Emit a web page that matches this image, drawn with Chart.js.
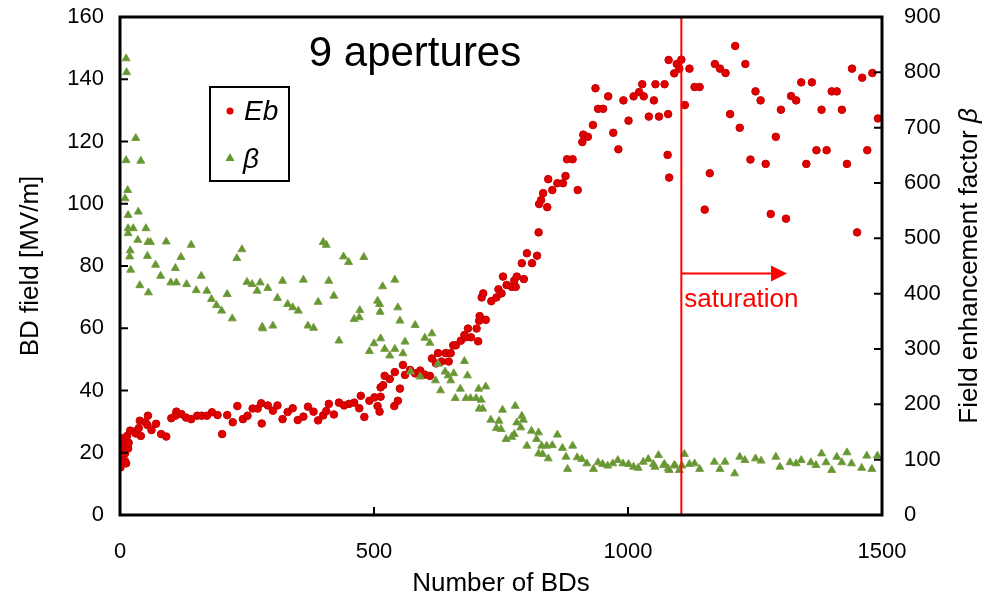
<!DOCTYPE html>
<html>
<head>
<meta charset="utf-8">
<title>BD field and field enhancement factor – 9 apertures</title>
<script src="https://cdn.jsdelivr.net/npm/chart.js@4/dist/chart.umd.min.js"></script>
<style>
  html, body { margin: 0; padding: 0; background: #fff; }
  #wrap { width: 990px; height: 604px; }
</style>
</head>
<body>
<div id="wrap"><canvas id="c" width="990" height="604"></canvas></div>
<script>
// Breakdown field Eb [MV/m] against cumulative number of breakdowns
const ebBDs = [1,2,12,10,2,10,16,7,17,5,14,20,29,31,37,41,39,50,55,54,62,71,81,91,101,111,109,121,130,140,
  152,161,171,181,192,201,211,222,231,242,251,261,271,278,279,291,301,310,320,330,340,350,361,370,381,390,400,406,411,421,
  431,441,451,461,471,474,481,491,501,507,511,513,513,518,521,531,541,540,547,551,557,561,571,581,591,600,610,614,622,626,
  633,641,647,651,656,661,671,678,681,691,685,702,705,708,707,720,712,715,731,741,745,751,754,761,771,779,776,781,795,791,
  801,811,821,824,825,829,833,841,843,851,861,872,877,880,891,901,910,912,921,931,936,941,951,961,971,981,991,1001,1011,1022,
  1028,1031,1041,1051,1054,1061,1072,1079,1078,1081,1080,1091,1096,1101,1105,1112,1121,1131,1141,1151,1161,1171,1181,1192,1201,1211,1220,1231,1241,1251,
  1261,1271,1281,1291,1301,1311,1321,1331,1341,1351,1362,1371,1381,1391,1401,1411,1421,1431,1441,1451,1461,1471,1481,1492];
const ebField = [15.3,17.7,16.6,17.3,21.1,19.8,21.4,23.0,23.2,24.6,25.4,27.1,26.8,26.2,27.9,25.4,30.3,29.8,31.9,28.9,27.3,29.3,26.0,25.2,31.1,33.2,31.9,32.4,31.3,30.8,
  31.9,31.9,31.9,33.0,32.1,26.0,32.1,29.8,35.0,30.8,31.9,34.2,34.2,35.9,29.4,35.2,33.5,35.2,30.8,33.1,34.3,30.5,31.6,34.8,33.2,30.4,32.0,33.4,35.7,32.3,
  36.1,35.2,35.7,36.1,34.3,38.3,31.5,36.7,37.8,35.0,33.2,38.0,41.0,41.7,44.7,43.7,45.9,35.0,36.7,40.6,48.2,45.0,46.6,45.5,46.4,45.1,44.7,50.3,48.7,52.0,
  49.3,52.0,49.3,52.0,54.5,54.5,56.0,57.8,57.1,57.1,59.9,59.9,55.8,63.9,62.4,62.7,69.9,71.2,68.7,69.9,72.5,71.2,76.6,73.9,73.3,73.3,75.3,76.6,75.8,80.9,
  84.1,80.9,83.3,90.8,99.9,101.2,103.4,98.9,107.9,104.4,106.6,106.6,108.9,114.3,114.3,104.4,119.8,122.2,121.5,125.3,137.1,130.5,130.5,134.5,122.8,117.5,133.2,126.7,134.5,135.9,
  138.4,134.5,128.0,133.2,138.4,128.0,138.4,128.8,115.7,108.4,146.2,141.9,144.9,143.4,146.3,131.7,143.4,137.5,137.5,98.1,109.8,144.9,143.4,142.0,128.8,150.7,124.4,144.9,114.2,136.1,
  133.2,112.8,96.7,121.5,130.2,95.2,134.6,133.2,139.0,112.8,139.0,117.2,130.2,117.2,136.1,136.1,130.2,112.8,143.4,90.8,140.5,117.2,142.0,127.4];

// Field enhancement factor beta against cumulative number of breakdowns
const betaBDs = [12,13,31,12,41,15,10,16,36,16,26,51,16,35,55,60,91,140,240,20,19,54,120,230,70,109,21,80,160,100,
  111,250,260,276,39,131,270,56,150,171,211,180,190,200,221,280,291,281,301,320,310,330,340,351,361,370,381,390,400,406,
  411,421,431,440,450,480,461,471,472,507,511,512,517,541,547,551,491,500,513,521,531,541,557,561,572,581,600,614,610,591,
  626,621,640,646,657,651,678,684,631,660,670,681,690,701,706,720,711,707,714,730,741,753,778,746,750,791,794,781,789,760,
  771,776,810,824,820,861,801,830,840,851,824,832,843,871,891,878,881,900,909,919,932,941,950,960,970,980,990,1001,1011,1020,
  1030,1040,1050,1060,1070,1079,1093,1053,1072,1081,1091,1101,1106,1111,1121,1131,1141,1170,1181,1191,1210,1220,1230,1251,1262,1291,1299,1319,1331,1341,
  1360,1370,1381,1390,1401,1411,1421,1431,1440,1460,1470,1480,1491];
const betaValues = [825,800,681,641,640,587,572,542,548,518,518,518,509,497,493,493,494,488,480,478,467,468,466,464,452,446,443,432,432,420,
  420,421,417,420,415,417,405,402,406,405,399,390,379,369,355,340,410,337,342,423,392,381,375,369,425,342,338,385,493,488,
  423,396,315,467,457,466,354,357,370,387,381,367,413,425,375,351,296,310,319,300,288,300,292,313,259,343,320,328,311,250,
  273,243,259,252,256,243,278,252,225,211,228,211,211,211,228,232,208,192,192,172,157,190,197,170,155,179,172,167,158,137,
  141,146,152,149,137,145,125,125,125,126,111,110,102,121,125,105,83,104,101,93,83,95,92,89,93,99,93,92,87,85,
  96,101,92,108,90,84,89,87,92,81,90,81,89,110,92,93,83,96,83,96,75,105,99,102,98,105,87,95,93,99,
  95,90,111,95,81,105,95,113,93,85,107,83,107];

// Axis ranges and tick steps
const xRange = [0, 1500], xStep = 500;
const ebRange = [0, 160], ebStep = 20;
const betaRange = [0, 900], betaStep = 100;

// Saturation marker: onset of saturation and arrow extent
const saturationStart = 1105;
const saturationArrowEnd = 1313;
const saturationArrowLevel = 77.6;

const FONT = '"Liberation Sans", Arial, Helvetica, sans-serif';
const RED = '#e00000';
const RED_EDGE = '#c40000';
const GREEN = '#5e9a30';
const GREEN_EDGE = '#7f9b45';

const pairs = (xs, ys) => xs.map((x, i) => ({ x: x, y: ys[i] }));
const plainNumber = v => String(v);

// Frame, inner ticks, titles, legend and the saturation annotation
const decorations = {
  id: 'decorations',
  afterDatasetsDraw(chart) {
    const ctx = chart.ctx;
    const a = chart.chartArea;
    const sx = chart.scales.x, sy = chart.scales.y, sy2 = chart.scales.y2;
    ctx.save();

    // saturation line + arrow + label
    const xs = sx.getPixelForValue(saturationStart);
    const xe = sx.getPixelForValue(saturationArrowEnd);
    const ya = sy.getPixelForValue(saturationArrowLevel);
    ctx.strokeStyle = '#ff0000';
    ctx.fillStyle = '#ff0000';
    ctx.lineWidth = 2;
    ctx.beginPath();
    ctx.moveTo(xs, a.top); ctx.lineTo(xs, a.bottom);
    ctx.stroke();
    ctx.beginPath();
    ctx.moveTo(xs, ya); ctx.lineTo(xe - 14, ya);
    ctx.stroke();
    ctx.beginPath();
    ctx.moveTo(xe, ya); ctx.lineTo(xe - 16, ya - 8); ctx.lineTo(xe - 16, ya + 8);
    ctx.closePath(); ctx.fill();
    ctx.font = '26px ' + FONT;
    ctx.textAlign = 'left'; ctx.textBaseline = 'middle';
    ctx.fillText('saturation', xs + 3, ya + 26);

    // plot frame
    ctx.strokeStyle = '#000';
    ctx.lineWidth = 3;
    ctx.strokeRect(a.left, a.top, a.right - a.left, a.bottom - a.top);

    // inner tick marks
    ctx.lineWidth = 2;
    ctx.beginPath();
    for (let v = ebRange[0]; v <= ebRange[1]; v += ebStep) {
      const y = sy.getPixelForValue(v);
      ctx.moveTo(a.left, y); ctx.lineTo(a.left + 8, y);
    }
    for (let v = betaRange[0]; v <= betaRange[1]; v += betaStep) {
      const y = sy2.getPixelForValue(v);
      ctx.moveTo(a.right, y); ctx.lineTo(a.right - 8, y);
    }
    for (let v = xRange[0]; v <= xRange[1]; v += xStep) {
      const x = sx.getPixelForValue(v);
      ctx.moveTo(x, a.bottom); ctx.lineTo(x, a.bottom - 8);
    }
    ctx.stroke();

    // chart title
    ctx.fillStyle = '#000';
    ctx.font = '42px ' + FONT;
    ctx.textAlign = 'center'; ctx.textBaseline = 'middle';
    ctx.fillText('9 apertures', 415, 54);

    // axis titles
    const cy = (a.top + a.bottom) / 2;
    ctx.font = '26px ' + FONT;
    ctx.fillText('Number of BDs', (a.left + a.right) / 2, 584);
    ctx.save();
    ctx.translate(31, cy); ctx.rotate(-Math.PI / 2);
    ctx.fillText('BD field [MV/m]', 0, 0);
    ctx.restore();
    ctx.save();
    ctx.translate(970, cy); ctx.rotate(-Math.PI / 2);
    const t1 = 'Field enhancement factor ';
    ctx.font = '26px ' + FONT;
    const w1 = ctx.measureText(t1).width;
    ctx.font = 'italic 26px ' + FONT;
    const w2 = ctx.measureText('\u03b2').width;
    ctx.textAlign = 'left';
    ctx.font = '26px ' + FONT;
    ctx.fillText(t1, -(w1 + w2) / 2, 0);
    ctx.font = 'italic 26px ' + FONT;
    ctx.fillText('\u03b2', -(w1 + w2) / 2 + w1, 0);
    ctx.restore();

    // legend box
    ctx.lineWidth = 2;
    ctx.strokeStyle = '#000';
    ctx.fillStyle = '#fff';
    ctx.fillRect(210, 87, 79, 94);
    ctx.strokeRect(210, 87, 79, 94);
    ctx.fillStyle = RED;
    ctx.beginPath(); ctx.arc(230, 111, 3.5, 0, Math.PI * 2); ctx.fill();
    ctx.fillStyle = GREEN;
    ctx.beginPath();
    ctx.moveTo(230, 153); ctx.lineTo(234.5, 161); ctx.lineTo(225.5, 161);
    ctx.closePath(); ctx.fill();
    ctx.fillStyle = '#000';
    ctx.font = 'italic 28px ' + FONT;
    ctx.textAlign = 'left'; ctx.textBaseline = 'middle';
    ctx.fillText('Eb', 244, 112);
    ctx.fillText('\u03b2', 243, 160);

    ctx.restore();
  }
};

new Chart(document.getElementById('c'), {
  type: 'scatter',
  data: {
    datasets: [
      {
        label: '\u03b2',
        data: pairs(betaBDs, betaValues),
        yAxisID: 'y2',
        pointStyle: 'triangle',
        pointRadius: 4.6,
        backgroundColor: GREEN,
        borderColor: GREEN_EDGE,
        borderWidth: 1,
        order: 0
      },
      {
        label: 'Eb',
        data: pairs(ebBDs, ebField),
        yAxisID: 'y',
        pointStyle: 'circle',
        pointRadius: 3.8,
        backgroundColor: RED,
        borderColor: RED_EDGE,
        borderWidth: 1,
        order: 1
      }
    ]
  },
  options: {
    responsive: false,
    animation: false,
    devicePixelRatio: 1,
    layout: { padding: { top: 17, left: 0, right: 0, bottom: 0 } },
    plugins: { legend: { display: false }, tooltip: { enabled: false } },
    scales: {
      x: {
        type: 'linear', min: xRange[0], max: xRange[1],
        grid: { display: false, drawTicks: false },
        border: { display: false },
        ticks: { stepSize: xStep, padding: 24, color: '#000', font: { family: FONT, size: 22 }, callback: plainNumber },
        afterFit(s) { s.height = 89; s.paddingLeft = 0; s.paddingRight = 0; }
      },
      y: {
        position: 'left', min: ebRange[0], max: ebRange[1],
        grid: { display: false, drawTicks: false },
        border: { display: false },
        ticks: { stepSize: ebStep, padding: 16, color: '#000', font: { family: FONT, size: 22 }, callback: plainNumber },
        afterFit(s) { s.width = 120; s.paddingTop = 0; s.paddingBottom = 0; }
      },
      y2: {
        position: 'right', min: betaRange[0], max: betaRange[1],
        grid: { display: false, drawTicks: false },
        border: { display: false },
        ticks: { stepSize: betaStep, padding: 22, color: '#000', font: { family: FONT, size: 22 }, callback: plainNumber },
        afterFit(s) { s.width = 108; s.paddingTop = 0; s.paddingBottom = 0; }
      }
    }
  },
  plugins: [decorations]
});
</script>
</body>
</html>
